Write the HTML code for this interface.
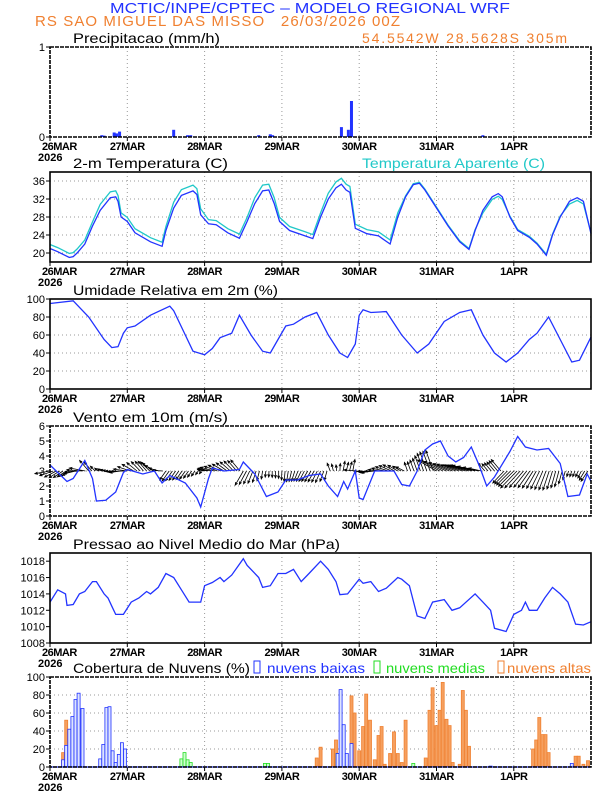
<!DOCTYPE html><html><head><meta charset="utf-8"><style>body{margin:0;background:#fff}svg{display:block}text{font-family:"Liberation Sans",sans-serif}</style></head><body>
<svg id="s" width="612" height="792" xmlns="http://www.w3.org/2000/svg"></svg>
<script>
const S=document.getElementById('s');let h='';
const X0=50,DW=77.3,W=541;
const X=d=>X0+DW*d;
function t(x,y,s,c,sz,anc,extra){h+=`<text x="${x}" y="${y}" fill="${c}" font-size="${sz}" ${anc?'text-anchor="'+anc+'"':''} ${extra||''}>${s}</text>`;}
t(110,13,'MCTIC/INPE/CPTEC – MODELO REGIONAL WRF','#2233ff',15,'','textLength="400" lengthAdjust="spacingAndGlyphs"');
t(35,26,'RS SAO MIGUEL DAS MISSO &#160;&#160;26/03/2026 00Z','#f08030',15,'','textLength="365"');
t(362,43,'54.5542W 28.5628S 305m','#f08030',14,'','textLength="205"');
const days=['26MAR','27MAR','28MAR','29MAR','30MAR','31MAR','1APR'];
function panel(top,title,tl,ymin,ymax,ticks,hgrid){
 const b=top+90,Y=v=>b-(v-ymin)/(ymax-ymin)*90;
 for(let i=1;i<7;i++)h+=`<line x1="${X(i)}" y1="${top}" x2="${X(i)}" y2="${b}" stroke="#999" stroke-dasharray="1,3"/>`;
 if(hgrid)ticks.forEach(v=>{if(v>ymin&&v<ymax)h+=`<line x1="${X0}" y1="${Y(v)}" x2="${X0+W}" y2="${Y(v)}" stroke="#999" stroke-dasharray="1,3"/>`;});
 ticks.forEach(v=>{h+=`<line x1="${X0-4}" y1="${Y(v)}" x2="${X0}" y2="${Y(v)}" stroke="#000"/>`;t(X0-5,Y(v)+4,v,'#000',11,'end');});
 days.forEach((d,i)=>{h+=`<line x1="${X(i)}" y1="${b}" x2="${X(i)}" y2="${b+4}" stroke="#000"/>`;t(X(i)+(i==0?-8:0),b+13,d,'#000',11,i==0?'start':'middle','font-weight="bold" letter-spacing="-0.5"');});
 t(X0-12,b+24,'2026','#000',11,'','font-weight="bold"');
 if(title)t(73,top-4,title,'#000',14,'',`textLength="${tl}" lengthAdjust="spacingAndGlyphs"`);
 return Y;
}
function border(top){h+=`<rect x="${X0}" y="${top}" width="${W}" height="90" fill="none" stroke="#000" stroke-width="1.6" stroke-dasharray="${top==47||top==677||top==426?'4,1':'none'}"/>`;}
function line(pts,Y,c){h+=`<polyline fill="none" stroke="${c}" stroke-width="1.3" points="${pts.map(p=>X(p[0]).toFixed(1)+','+Y(p[1]).toFixed(1)).join(' ')}"/>`;}
function interp(pts,d){for(let i=0;i<pts.length-1;i++){if(d<=pts[i+1][0]){const f=(d-pts[i][0])/(pts[i+1][0]-pts[i][0]);return pts[i][1]+f*(pts[i+1][1]-pts[i][1]);}}return pts[pts.length-1][1];}
// precip
let Y=panel(47,'Precipitacao (mm/h)',147,0,1,[0,1],false);
[[0.67,.02],[0.7,.015],[0.83,.05],[0.86,.04],[0.9,.06],[1.6,.08],[1.78,.02],[1.82,.02],[2.7,.02],[2.85,.03],[2.88,.02],[3.77,.11],[3.86,.08],[3.9,.4],[5.6,.02]].forEach(p=>{h+=`<rect x="${X(p[0])-1.5}" y="${Y(p[1])}" width="3" height="${Y(0)-Y(p[1])}" fill="#2233ff"/>`;});
border(47);
// temperature
Y=panel(172,'2-m Temperatura (C)',155,18,38,[20,24,28,32,36],true);
t(362,168,'Temperatura Aparente (C)','#20c8c8',14,'','textLength="183" lengthAdjust="spacingAndGlyphs"');
const T=[[0,21],[.1,20.3],[.25,19],[.3,19.2],[.35,20],[.45,22],[.55,26],[.65,29.5],[.78,32.3],[.85,32.5],[.88,31.5],[.92,28],[1,27],[1.1,24.5],[1.3,22.5],[1.45,21.5],[1.5,25],[1.6,30],[1.7,32.8],[1.85,33.8],[1.9,33],[1.95,28.5],[2.05,26.5],[2.15,26.3],[2.3,24.5],[2.45,23.3],[2.55,27],[2.65,31],[2.75,33.8],[2.83,34],[2.9,31],[2.97,27],[3.1,25],[3.3,23.8],[3.4,23.2],[3.5,28],[3.6,32],[3.7,34.5],[3.77,35.3],[3.83,34],[3.88,33.5],[3.95,25.5],[4.1,24.3],[4.25,23.8],[4.4,22],[4.5,28],[4.6,32.5],[4.7,35.2],[4.78,35.5],[4.85,34],[5,30],[5.15,26],[5.3,22.5],[5.42,20.8],[5.5,25],[5.6,29.5],[5.72,32.5],[5.8,33.2],[5.85,32.5],[5.95,28],[6.05,25],[6.2,23.5],[6.3,22],[6.42,19.5],[6.5,24],[6.6,28],[6.72,31.5],[6.82,32.3],[6.9,31.5],[7,24.2]];
const TA=T.map(p=>{let v=p[1];if(v>28)v+= (p[0]%1>0.5 && p[0]<4.5)?1.3:(p[0]>5.5?-0.6:0.2);else if(p[0]<4.6)v+=0.9;else v+=0.2;return [p[0],v];});
line(TA,Y,'#20c8c8');line(T,Y,'#2233ff');border(172);
// RH
Y=panel(299,'Umidade Relativa em 2m (%)',205,0,100,[0,20,40,60,80,100],true);
line([[0,95],[.3,98],[.5,80],[.7,55],[.8,46],[.88,47],[.95,62],[1,68],[1.1,70],[1.3,82],[1.55,92],[1.6,87],[1.75,60],[1.85,42],[2,38],[2.1,45],[2.2,57],[2.35,62],[2.45,82],[2.6,60],[2.75,42],[2.85,40],[2.95,55],[3.05,70],[3.15,72],[3.3,80],[3.45,85],[3.6,60],[3.75,40],[3.85,35],[3.95,50],[4,82],[4.05,88],[4.15,85],[4.35,86],[4.55,60],[4.75,40],[4.9,50],[5.1,75],[5.3,85],[5.45,88],[5.6,60],[5.75,40],[5.9,30],[6.05,40],[6.2,55],[6.3,62],[6.45,80],[6.6,55],[6.75,30],[6.85,32],[7,58]],Y,'#2233ff');border(299);
// wind
Y=panel(426,'Vento em 10m (m/s)',155,0,6,[0,1,2,3,4,5,6],true);
const WS=[[0,3.4],[.22,2.3],[.3,2.5],[.45,3.7],[.55,2.5],[.6,1],[.72,1.05],[.85,1.6],[.95,2.9],[1,3.1],[1.2,2.8],[1.35,3],[1.45,2.2],[1.55,2.7],[1.75,2.2],[1.9,1.2],[1.95,.6],[2.05,2.5],[2.1,3.2],[2.25,3],[2.45,3.1],[2.5,3.6],[2.65,2.8],[2.8,1.3],[2.95,1.6],[3.05,2.4],[3.2,2.4],[3.35,2.7],[3.5,2.8],[3.6,2],[3.72,1.3],[3.8,2.3],[3.85,1.8],[3.95,3],[4,1.2],[4.05,1.1],[4.2,3],[4.45,3],[4.55,2.1],[4.65,2],[4.75,3],[4.85,4.4],[4.95,4.8],[5.05,5],[5.15,4],[5.25,3.6],[5.35,3.9],[5.45,4.6],[5.55,3.4],[5.65,2],[5.75,2.6],[5.95,4.3],[6.05,5.3],[6.15,4.6],[6.3,4.4],[6.45,4.5],[6.6,3.5],[6.7,1.3],[6.85,1.4],[6.95,2.8],[7,2.3]];
const by=Y(3);let ar='';
for(let i=0;i<168;i++){const d=i/24;let s=interp(WS,d);let ang;
 if(d<0.5)ang=190+25*Math.sin(d*9);else if(d<1.5)ang=160+30*Math.sin(d*9);else if(d<2)ang=235;else if(d<2.5)ang=150+20*Math.sin(d*7);else if(d<3.6)ang=255+15*Math.sin(d*7);else if(d<3.95)ang=95+20*Math.sin(d*11);else if(d<4.6)ang=170+20*Math.sin(d*8);else if(d<5)ang=110;else if(d<5.6)ang=150+30*(d-5);else if(d<5.85)ang=130;else ang=240+15*Math.sin(d*5);
 const L=s*4.5,a=ang*Math.PI/180,x1=X(d),x2=x1+L*Math.cos(a),y2=by-L*Math.sin(a);
 const ha=a+Math.PI,hx1=x2+3*Math.cos(ha+0.4),hy1=y2-3*Math.sin(ha+0.4),hx2=x2+3*Math.cos(ha-0.4),hy2=y2-3*Math.sin(ha-0.4);
 ar+=`M${x1.toFixed(1)},${by.toFixed(1)}L${x2.toFixed(1)},${y2.toFixed(1)}M${hx1.toFixed(1)},${hy1.toFixed(1)}L${x2.toFixed(1)},${y2.toFixed(1)}L${hx2.toFixed(1)},${hy2.toFixed(1)}`;}
h+=`<path d="${ar}" stroke="#000" stroke-width="0.8" fill="none"/>`;
line(WS,Y,'#2233ff');border(426);
// pressure
Y=panel(553,'Pressao ao Nivel Medio do Mar (hPa)',267,1008,1019,[1008,1010,1012,1014,1016,1018],false);
line([[0,1013],[.1,1014.5],[.2,1014],[.22,1012.6],[.3,1012.7],[.38,1014],[.45,1014.3],[.55,1015.5],[.6,1015.5],[.7,1014],[.75,1013.5],[.8,1012.5],[.85,1011.5],[.95,1011.5],[1.05,1013],[1.15,1013.5],[1.25,1014.3],[1.3,1014],[1.4,1014.8],[1.5,1016.5],[1.6,1016],[1.7,1014.5],[1.8,1013],[1.95,1013],[2,1015],[2.1,1015.4],[2.2,1016],[2.25,1015.5],[2.35,1016.3],[2.5,1018.3],[2.55,1017.5],[2.7,1016],[2.75,1014.8],[2.85,1015],[2.95,1016.5],[3.05,1016.5],[3.15,1017],[3.25,1015.5],[3.35,1016.5],[3.5,1018],[3.6,1017],[3.7,1015.5],[3.75,1013.9],[3.85,1014],[3.95,1015.2],[4,1015.8],[4.05,1015.3],[4.15,1015.5],[4.25,1014.3],[4.35,1014.7],[4.5,1016],[4.55,1015.8],[4.65,1015],[4.75,1011.3],[4.85,1011],[4.95,1013],[5.1,1013.3],[5.2,1012],[5.3,1012.3],[5.5,1014],[5.6,1013],[5.7,1012],[5.75,1009.8],[5.9,1009.4],[6,1011.5],[6.1,1012],[6.15,1013],[6.2,1012],[6.3,1012],[6.4,1013.5],[6.5,1014.8],[6.6,1014],[6.7,1013],[6.8,1010.3],[6.9,1010.2],[7,1010.6]],Y,'#2233ff');border(553);
// clouds
Y=panel(677,'','',0,100,[0,20,40,60,80,100],true);
t(73,673,'Cobertura de Nuvens (%)','#000',14,'','textLength="177" lengthAdjust="spacingAndGlyphs"');
h+=`<rect x="254" y="661" width="6" height="12" fill="none" stroke="#2233ff"/>`;t(267,673,'nuvens baixas','#2233ff',14,'','textLength="98" lengthAdjust="spacingAndGlyphs"');
h+=`<rect x="374" y="661" width="6" height="12" fill="none" stroke="#22dd22"/>`;t(386,673,'nuvens medias','#22dd22',14,'','textLength="99" lengthAdjust="spacingAndGlyphs"');
h+=`<rect x="498" y="661" width="6" height="12" fill="none" stroke="#f08030"/>`;t(507,673,'nuvens altas','#f08030',14,'','textLength="84" lengthAdjust="spacingAndGlyphs"');
function bars(arr,fill,st){arr.forEach(p=>{h+=`<rect x="${(X(p[0])-1.5).toFixed(1)}" y="${Y(p[1]).toFixed(1)}" width="3" height="${(Y(0)-Y(p[1])).toFixed(1)}" fill="${fill}" stroke="${st}" stroke-width="0.8"/>`;});}
bars([[.17,16],[.21,52],[.25,23],[3.45,10],[3.5,22],[3.66,20],[3.7,30],[3.9,79],[3.94,60],[4,18],[4.05,45],[4.09,81],[4.14,52],[4.2,8],[4.25,35],[4.29,45],[4.33,3],[4.4,15],[4.45,39],[4.5,15],[4.55,5],[4.6,52],[4.86,10],[4.91,63],[4.95,88],[5,46],[5.04,63],[5.08,94],[5.13,53],[5.17,46],[5.21,5],[5.3,3],[5.34,85],[5.38,63],[5.42,23],[6.25,20],[6.29,30],[6.33,55],[6.37,36],[6.41,36],[6.45,16],[6.8,12],[6.84,12],[6.9,3],[6.96,7]],'#f5a060','#f08030');
bars([[1.7,9],[1.74,16],[1.78,8],[1.82,5],[2.78,4],[2.82,4],[4.7,4],[3.72,15],[3.78,8]],'#cfc','#22dd22');
bars([[.17,8],[.21,24],[.25,42],[.29,56],[.33,75],[.37,82],[.42,65],[.65,9],[.69,25],[.73,66],[.77,67],[.81,18],[.85,5],[.89,14],[.93,27],[.97,20],[3.72,15],[3.76,86],[3.8,47],[3.84,15],[3.9,26],[5.7,1],[6.75,4]],'#dde4ff','#2233ff');
h+=`<line x1="${X0}" y1="${Y(0)}" x2="${X0+W}" y2="${Y(0)}" stroke="#2233ff" stroke-width="1.2"/>`;
border(677);
S.innerHTML=h;
</script></body></html>
